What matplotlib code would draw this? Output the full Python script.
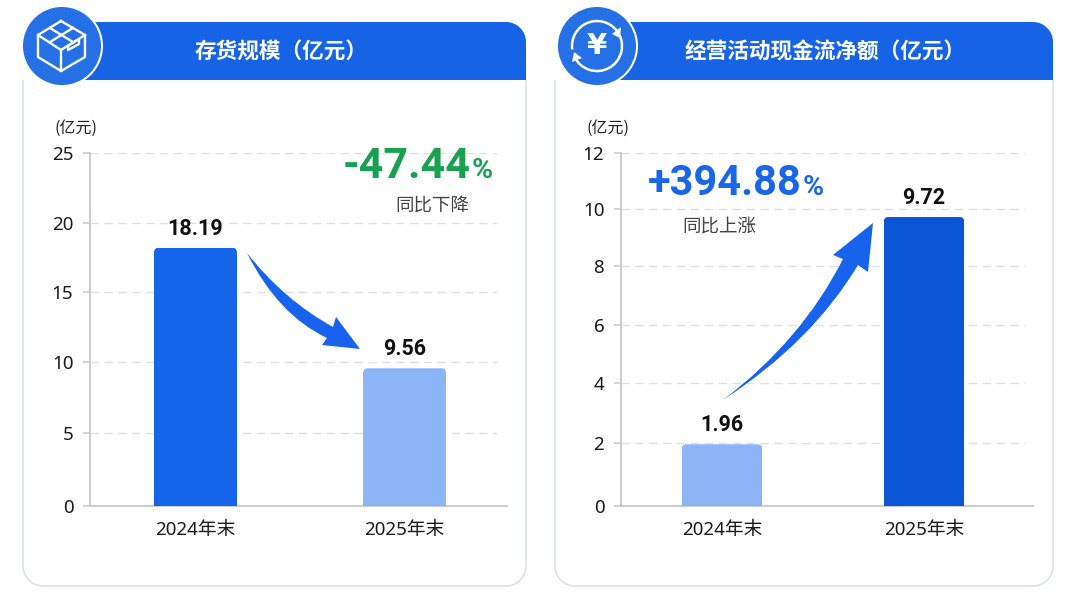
import matplotlib
matplotlib.use("Agg")
import matplotlib.pyplot as plt
from matplotlib.patches import Circle, FancyBboxPatch, PathPatch, Arc, Polygon
from matplotlib.path import Path
from matplotlib.transforms import IdentityTransform
import numpy as np

plt.rcParams['font.family'] = ['Noto Sans CJK SC', 'DejaVu Sans']

W, H = 1080, 608

# Chart data
inv_categories = ['2024年末', '2025年末']
inv_values = [18.19, 9.56]
inv_ticks = [0, 5, 10, 15, 20, 25]
cash_categories = ['2024年末', '2025年末']
cash_values = [1.96, 9.72]
cash_ticks = [0, 2, 4, 6, 8, 10, 12]

# Vertical pixel row of each tick; the axes are slightly uneven, so each
# chart gets a piecewise scale through these rows.
inv_rows = [506, 433, 362, 292, 222.5, 152.5]
cash_rows = [506, 443, 383, 325, 266, 209, 152.5]

BLUE = '#1565ea'
DEEP = '#0a56d6'
LIGHT = '#8cb5f8'
GRID = '#dde1e6'
AXIS = '#c3c8cf'
EDGE = '#d4e0ec'
HEAD = '#1763e6'
BADGE = '#2470e4'
LATIN = ['Noto Sans', 'Noto Sans CJK SC', 'DejaVu Sans']

fig = plt.figure(figsize=(W / 100, H / 100), dpi=100, facecolor='white')


def overlay(z):
    a = fig.add_axes([0, 0, 1, 1], zorder=z)
    a.set_xlim(0, W)
    a.set_ylim(H, 0)
    a.axis('off')
    a.patch.set_alpha(0)
    return a


back = overlay(0)
front = overlay(5)


def card(x0, x1, head_x0, title, title_cx):
    """Outlined card body with a solid header strip whose top corners are rounded."""
    top, bot, r = 80, 586, 20
    k = 0.55 * r
    verts = [(x0, top), (x0, bot - r), (x0, bot - r + k), (x0 + r - k, bot), (x0 + r, bot),
             (x1 - r, bot), (x1 - r + k, bot), (x1, bot - r + k), (x1, bot - r), (x1, top)]
    codes = [Path.MOVETO, Path.LINETO, Path.CURVE4, Path.CURVE4, Path.CURVE4,
             Path.LINETO, Path.CURVE4, Path.CURVE4, Path.CURVE4, Path.LINETO]
    back.add_patch(PathPatch(Path(verts, codes), fc='white', ec=EDGE, lw=1.1))
    t, b, r2 = 22, 80, 20
    k2 = 0.55 * r2
    hv = [(head_x0, t), (x1 - r2, t), (x1 - r2 + k2, t), (x1, t + r2 - k2), (x1, t + r2),
          (x1, b), (head_x0, b), (head_x0, t)]
    hc = [Path.MOVETO, Path.LINETO, Path.CURVE4, Path.CURVE4, Path.CURVE4,
          Path.LINETO, Path.LINETO, Path.CLOSEPOLY]
    back.add_patch(PathPatch(Path(hv, hc), fc=HEAD, ec='none'))
    back.text(title_cx, 52, title, color='white', fontsize=15.6, ha='center', va='center',
              fontweight='bold')


card(23, 526, 85, '存货规模（亿元）', 281)
card(555, 1053, 620, '经营活动现金流净额（亿元）', 825)


def badge(cx, cy):
    back.add_patch(Circle((cx, cy), 41, fc='white', ec='none', zorder=3))
    back.add_patch(Circle((cx, cy), 39, fc=BADGE, ec='none', zorder=4))


badge(62, 46)
badge(597, 46)

# Parcel icon
for seg in [[(61, 21), (85, 35), (85, 57), (61, 71), (38, 57), (38, 35), (61, 21)],
            [(38, 35), (61, 50), (85, 35)],
            [(61, 50), (61, 71)],
            [(50, 28), (73, 42)],
            [(73, 28), (50, 42)],
            [(68, 46), (79, 39), (79, 44), (68, 50), (68, 46)]]:
    xs, ys = zip(*seg)
    back.plot(xs, ys, color='white', lw=1.7, solid_joinstyle='round', zorder=6)

# Currency icon: two arcs with arrowheads around the yen sign
back.add_patch(Arc((597, 46), 50, 50, theta1=-35, theta2=155, color='white', lw=1.8, zorder=6))
back.add_patch(Arc((597, 46), 50, 50, theta1=172, theta2=322, color='white', lw=1.8, zorder=6))
back.add_patch(Polygon([(612, 34), (621, 27), (620, 38)], fc='white', ec='none', zorder=6))
back.add_patch(Polygon([(582, 58), (572, 62), (574, 52)], fc='white', ec='none', zorder=6))
back.text(597, 46, '¥', color='white', fontsize=21, fontweight='bold', ha='center',
          va='center', family=['DejaVu Sans'], zorder=6)


def rounded_bars(ax, xs, values, width, colors, radius=5):
    """Bars with softly rounded top corners, clipped in display space."""
    fig.canvas.draw()
    bars = ax.bar(xs, values, width=width, color=colors, zorder=3)
    for b in bars:
        (x0, y0), (x1, y1) = ax.transData.transform(
            [(b.get_x(), 0), (b.get_x() + b.get_width(), b.get_height())])
        clip = FancyBboxPatch((x0 + radius, y0 - 30), x1 - x0 - 2 * radius, y1 - y0 + 30 - radius,
                              boxstyle=f'round,pad={radius},rounding_size={radius}',
                              transform=IdentityTransform())
        b.set_clip_path(clip)
    return bars


def chart(left, right, grid_end, cx0, unit, ticks, rows, cats, vals, width, colors, label_gap):
    y_top, y_bot = rows[-1], rows[0]
    ax = fig.add_axes([left / W, 1 - y_bot / H, (right - left) / W, (y_bot - y_top) / H], zorder=2)
    ax.patch.set_alpha(0)
    fracs = (np.array(rows[0]) - np.array(rows)) / (y_bot - y_top)
    ax.set_yscale('function', functions=(lambda v: np.interp(v, ticks, fracs),
                                         lambda f: np.interp(f, fracs, ticks)))
    ax.set_xlim((left - cx0) / unit, (right - cx0) / unit)
    ax.set_ylim(ticks[0], ticks[-1])
    ax.set_yticks(ticks, [str(t) for t in ticks], family=LATIN)
    ax.minorticks_off()
    ax.set_xticks(range(len(cats)), cats, family=LATIN)
    ax.tick_params(axis='y', length=5, width=1.1, color=AXIS, labelsize=13.5, pad=7, labelcolor='#1a1a1a')
    ax.tick_params(axis='x', length=0, labelsize=13.5, pad=11, labelcolor='#1a1a1a')
    for s in ('top', 'right'):
        ax.spines[s].set_visible(False)
    for s in ('left', 'bottom'):
        ax.spines[s].set_color(AXIS)
        ax.spines[s].set_linewidth(1.3)
    frac = (grid_end - left) / (right - left)
    for t in ticks[1:]:
        ax.plot([0, frac], [t, t], transform=ax.get_yaxis_transform(), color=GRID, lw=1,
                ls=(0, (6, 4)), zorder=1)
    rounded_bars(ax, range(len(vals)), vals, width, colors)
    for i, v in enumerate(vals):
        ax.annotate(f'{v:.2f}', (i, v), xytext=(0, label_gap), textcoords='offset pixels',
                    ha='center', va='bottom', fontsize=15.5, fontweight='bold', color='#111111',
                    family=['Roboto', 'DejaVu Sans'], zorder=4)
    return ax


chart(90, 507, 497, 195.5, 209, inv_ticks, inv_rows, inv_categories, inv_values, 0.397,
      [BLUE, LIGHT], 8)
chart(621, 1033, 1025, 722, 202, cash_ticks, cash_rows, cash_categories, cash_values, 0.4,
      [LIGHT, DEEP], 8)

back.text(76, 128, '(亿元)', fontsize=11.5, ha='center', va='center', color='#222222')
back.text(608, 128, '(亿元)', fontsize=11.5, ha='center', va='center', color='#222222')


def change(x_end, y, pct, size, color):
    """Large percentage figure with a smaller trailing percent sign."""
    front.text(x_end, y, pct, color=color, fontsize=size, fontweight='bold', ha='right',
               va='baseline', family=['Roboto', 'DejaVu Sans'])
    front.text(x_end + 1, y, '%', color=color, fontsize=20.5, fontweight='bold', ha='left',
               va='baseline', family=['Roboto', 'DejaVu Sans'])


change(471, 178, '-47.44', 31, '#17a150')
change(802, 195, '+394.88', 30, '#1a66e8')
front.text(432, 207, '同比下降', fontsize=13.3, color='#444444', ha='center', va='center')
front.text(719, 227, '同比上涨', fontsize=13.3, color='#444444', ha='center', va='center')


def tapered_arrow(verts, color):
    codes = [Path.MOVETO, Path.CURVE3, Path.CURVE3, Path.LINETO, Path.LINETO, Path.LINETO,
             Path.LINETO, Path.CURVE3, Path.CURVE3, Path.CLOSEPOLY]
    front.add_patch(PathPatch(Path(verts, codes), fc=color, ec='none'))


tapered_arrow([(247, 253), (284, 300), (333, 327), (336, 317), (360, 349), (322, 345),
               (327, 338), (278, 315), (247, 253), (247, 253)], '#1763ee')
tapered_arrow([(723, 400), (802, 340), (843, 259), (833, 255), (873, 223), (868, 272),
               (858, 265), (812, 342), (723, 400), (723, 400)], '#1763ee')

fig.savefig('out.png', dpi=100, facecolor='white')
